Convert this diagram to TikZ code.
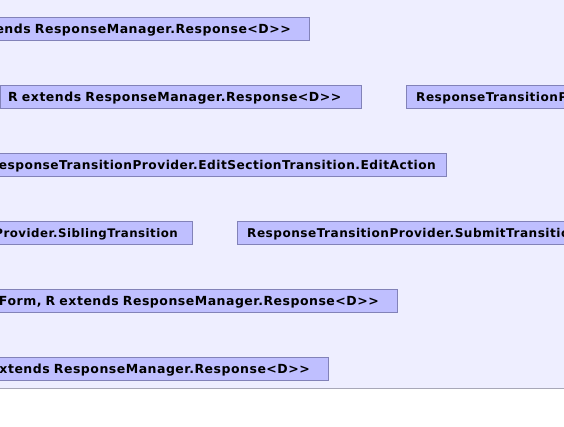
\documentclass[tikz,border=0pt]{standalone}
\usepackage{fontspec}
\newfontfamily\diagfont{DejaVu Sans}[LetterSpace=4]
\usepackage{tikz}
\usetikzlibrary{positioning}
\definecolor{diagbg}{HTML}{EEEEFF}
\definecolor{clsfill}{HTML}{BFBFFF}
\definecolor{clsdraw}{HTML}{8282B8}
\definecolor{rulegray}{HTML}{A8A8B8}
\tikzstyle{classbox} = [draw=clsdraw, fill=clsfill, rectangle, font=\diagfont\bfseries\fontsize{12.5}{14}\selectfont, minimum height=23pt, text height=9pt, text depth=0pt, inner ysep=0pt, inner xsep=10pt]
\tikzstyle{cutleft} = [anchor=east, text width=480pt, align=right]
\tikzstyle{cutright} = [anchor=west, text width=480pt, align=left]
\tikzstyle{narrowtext} = [font=\diagfont\bfseries\fontsize{12.1}{14}\selectfont]

\begin{document}
\begin{tikzpicture}[x=1pt,y=1pt]
				\useasboundingbox (0,0) rectangle (564,-426);
				\clip (0,0) rectangle (564,-426);
				\fill[diagbg] (0,0) rectangle (564,-388);
				\draw[rulegray] (0,-388) -- (564,-388);
				% row 1
				\node [classbox, cutleft, inner xsep=18pt] (callback) at (309,-28.5) {ends ResponseManager.Response<D>>};
				% row 2
				\node [classbox, anchor=west, text width=345pt, align=left, inner xsep=8pt] (handler) at (0,-96.5) {R extends ResponseManager.Response<D>>};
				\node [classbox, narrowtext, cutright] (provider) at (406,-96.5) {ResponseTransitionProvider};
				% row 3
				\node [classbox, font=\diagfont\bfseries\fontsize{12.2}{14}\selectfont, cutleft] (editaction) at (446,-164.5) {esponseTransitionProvider.EditSectionTransition.EditAction};
				% row 4
				\node [classbox, font=\diagfont\bfseries\fontsize{11.8}{14}\selectfont, cutleft, inner xsep=14pt] (sibling) at (192,-232.5) {Provider.SiblingTransition};
				\node [classbox, narrowtext, cutright] (submit) at (237,-232.5) {ResponseTransitionProvider.SubmitTransition};
				% row 5
				\node [classbox, cutleft, inner xsep=18pt] (formhandler) at (397,-300.5) {Form, R extends ResponseManager.Response<D>>};
				% row 6
				\node [classbox, cutleft, inner xsep=18pt] (response) at (328,-368.5) {xtends ResponseManager.Response<D>>};
			\end{tikzpicture}
\end{document}
